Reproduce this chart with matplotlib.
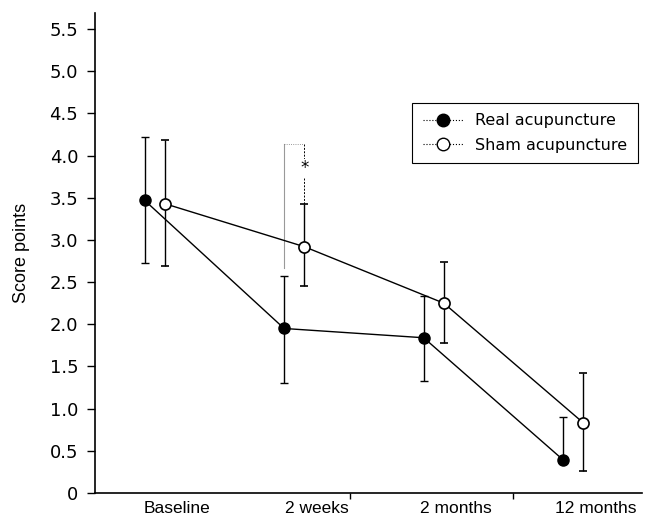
import numpy as np
import matplotlib
matplotlib.use("Agg")
import matplotlib.pyplot as plt
from matplotlib.lines import Line2D

# data
timepoints = ["Baseline", "2 weeks", "2 months", "12 months"]
real_mean = [3.47, 1.95, 1.84, 0.39]
real_hi = [4.22, 2.57, 2.33, 0.90]
real_lo = [2.73, 1.30, 1.33, 0.39]
sham_mean = [3.43, 2.92, 2.25, 0.83]
sham_hi = [4.18, 3.43, 2.74, 1.42]
sham_lo = [2.69, 2.45, 1.78, 0.26]
yticks = [0, 0.5, 1.0, 1.5, 2.0, 2.5, 3.0, 3.5, 4.0, 4.5, 5.0, 5.5]
ytick_labels = ["0", "0.5", "1.0", "1.5", "2.0", "2.5", "3.0", "3.5", "4.0", "4.5", "5.0", "5.5"]
sig_top = 4.14
sig_star = 3.85

x = np.arange(len(timepoints))
off = 0.072
xr = x - off
xs = x + off

fig = plt.figure(figsize=(6.45, 5.2), dpi=100)
ax = fig.add_axes([0.147, 0.052, 0.848, 0.923])

real_err = [np.array(real_mean) - np.array(real_lo), np.array(real_hi) - np.array(real_mean)]
sham_err = [np.array(sham_mean) - np.array(sham_lo), np.array(sham_hi) - np.array(sham_mean)]

ax.errorbar(xr, real_mean, yerr=real_err, color="black", lw=1.0, elinewidth=1.0,
            capsize=3, capthick=1.0, marker="o", ms=8, mfc="black", mec="black", zorder=3)
ax.errorbar(xs, sham_mean, yerr=sham_err, color="black", lw=1.0, elinewidth=1.0,
            capsize=3, capthick=1.0, marker="o", ms=8, mfc="white", mec="black",
            mew=1.2, zorder=3)

# significance bracket at 2 weeks
ax.plot([xr[1], xr[1]], [sig_top, real_hi[1] + 0.1], color="#999999", lw=0.8, zorder=1)
ax.plot([xs[1], xs[1]], [sig_top, sham_hi[1]], color="black", lw=0.7, ls=(0, (2, 1.5)), zorder=1)
ax.plot([xr[1], xs[1]], [sig_top, sig_top], color="#777777", lw=0.6, ls=":", zorder=1)
ax.text(xs[1], sig_star, "*", ha="center", va="center", fontsize=12,
        bbox=dict(fc="white", ec="none", pad=0.5))

ax.set_xlim(-0.428, 3.49)
ax.set_ylim(0, 5.69)
ax.set_yticks(yticks)
ax.set_yticklabels(ytick_labels, family="DejaVu Sans", fontsize=13)
ax.set_xticks(x + 0.16)
ax.set_xticklabels(timepoints, family="Liberation Sans", fontsize=12.5)
ax.tick_params(axis="x", length=0, pad=6)
ax.set_xticks([1.40, 2.57], minor=True)
ax.tick_params(axis="x", which="minor", length=4, width=1)
ax.tick_params(axis="y", length=6, width=1, direction="out", pad=6)
ax.set_ylabel("Score points", family="Liberation Sans", fontsize=13, labelpad=14)

for side in ["top", "right"]:
    ax.spines[side].set_visible(False)
ax.spines["left"].set_linewidth(1.2)
ax.spines["bottom"].set_linewidth(1.2)

handles = [
    Line2D([0], [0], color="black", lw=0.8, ls=":", marker="o", ms=9, mfc="black", mec="black"),
    Line2D([0], [0], color="black", lw=0.8, ls=":", marker="o", ms=9, mfc="white", mec="black"),
]
leg = ax.legend(handles, ["Real acupuncture", "Sham acupuncture"], loc="upper right",
                bbox_to_anchor=(0.993, 0.8125), borderaxespad=0, fancybox=False,
                framealpha=1, edgecolor="black", handlelength=2.5, handletextpad=0.8,
                borderpad=0.65, prop={"family": "DejaVu Sans", "size": 11.5},
                labelspacing=0.6)
leg.get_frame().set_linewidth(0.8)

fig.savefig("out.png", dpi=100)
